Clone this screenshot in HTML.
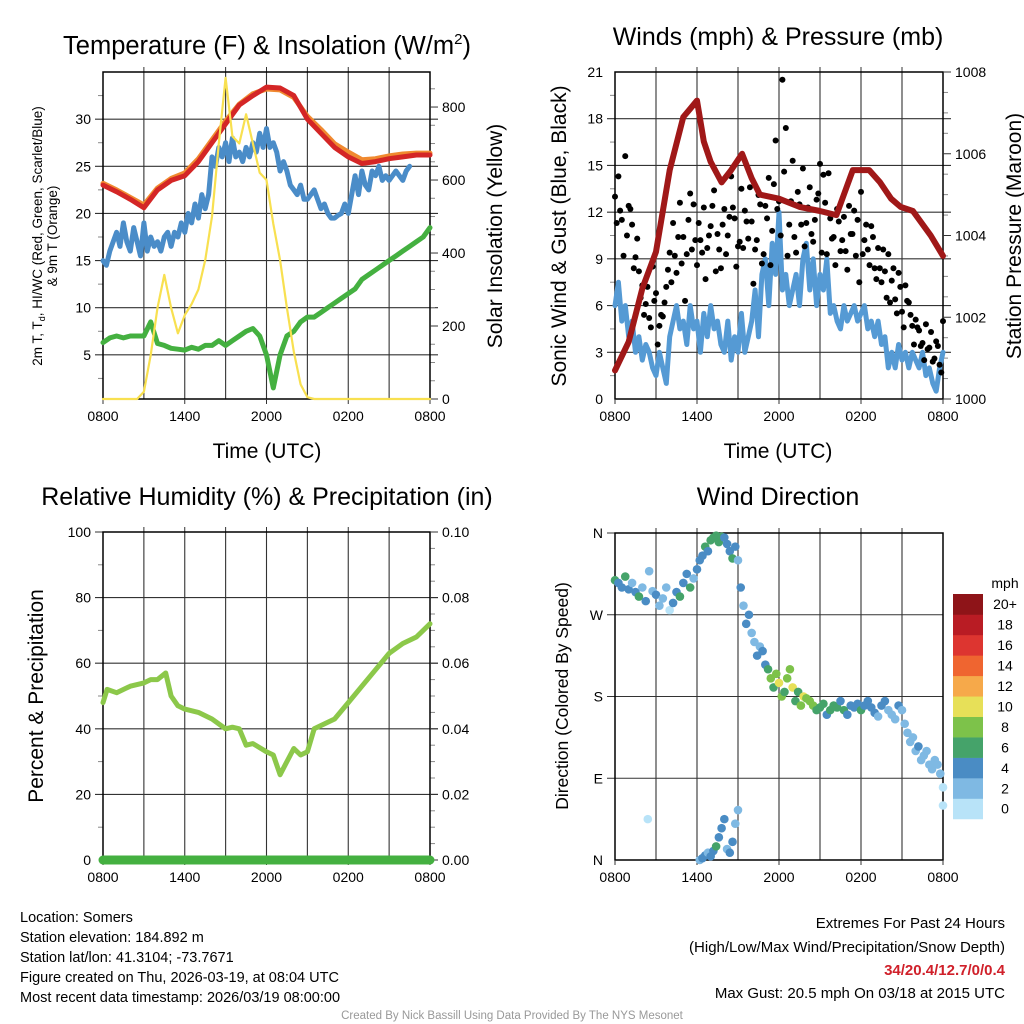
<!DOCTYPE html>
<html><head><meta charset="utf-8"><style>
html,body{margin:0;padding:0;background:#fff}
svg{display:block;font-family:"Liberation Sans",sans-serif}
</style></head><body>
<svg id="svg" width="1024" height="1024" viewBox="0 0 1024 1024" xmlns="http://www.w3.org/2000/svg">
<text x="267" y="54" font-size="25.5" text-anchor="middle">Temperature (F) &amp; Insolation (W/m<tspan dy="-10" font-size="15">2</tspan><tspan dy="10">)</tspan></text>
<text x="778" y="45" font-size="25" text-anchor="middle">Winds (mph) &amp; Pressure (mb)</text>
<text x="267" y="505" font-size="25" text-anchor="middle">Relative Humidity (%) &amp; Precipitation (in)</text>
<text x="778" y="505" font-size="25" text-anchor="middle">Wind Direction</text>

<text transform="translate(42,236) rotate(-90)" font-size="13.5" text-anchor="middle">2m T, T<tspan font-size="9" dy="3">d</tspan><tspan dy="-3">, HI/WC (Red, Green, Scarlet/Blue)</tspan></text>
<text transform="translate(57,236) rotate(-90)" font-size="13.5" text-anchor="middle">&amp; 9m T (Orange)</text>
<text transform="translate(502,236) rotate(-90)" font-size="21" text-anchor="middle">Solar Insolation (Yellow)</text>
<text x="267" y="458" font-size="21" text-anchor="middle">Time (UTC)</text>
<text transform="translate(566,236) rotate(-90)" font-size="21" text-anchor="middle">Sonic Wind &amp; Gust (Blue, Black)</text>
<text transform="translate(1021,236) rotate(-90)" font-size="21" text-anchor="middle">Station Pressure (Maroon)</text>
<text x="778" y="458" font-size="21" text-anchor="middle">Time (UTC)</text>
<text transform="translate(43,696) rotate(-90)" font-size="21" text-anchor="middle">Percent &amp; Precipitation</text>
<text transform="translate(568,696) rotate(-90)" font-size="17.5" text-anchor="middle">Direction (Colored By Speed)</text>

<g font-size="14.5">
<text x="20" y="922">Location: Somers</text>
<text x="20" y="942">Station elevation: 184.892 m</text>
<text x="20" y="962">Station lat/lon: 41.3104; -73.7671</text>
<text x="20" y="982">Figure created on Thu, 2026-03-19, at 08:04 UTC</text>
<text x="20" y="1002">Most recent data timestamp: 2026/03/19 08:00:00</text>
</g>
<g font-size="15" text-anchor="end">
<text x="1005" y="928">Extremes For Past 24 Hours</text>
<text x="1005" y="952">(High/Low/Max Wind/Precipitation/Snow Depth)</text>
<text x="1005" y="975" fill="#d0202a" font-weight="bold">34/20.4/12.7/0/0.4</text>
<text x="1005" y="998">Max Gust: 20.5 mph On 03/18 at 2015 UTC</text>
</g>
<text x="512" y="1019" font-size="11.5" fill="#999" text-anchor="middle">Created By Nick Bassill Using Data Provided By The NYS Mesonet</text>
<g id="layer"></g>
</svg>
<script>
// ---------- data ----------
const xTickLabels = ["0800","1400","2000","0200","0800"];
const halfHours = []; for (let i=0;i<=48;i++) halfHours.push(i/2);
const quarterHours = []; for (let i=0;i<=96;i++) quarterHours.push(i/4);
const tempHours = [0,1,2,3,4,5,6,7,8,9,10,11,12,13,14,15,16,17,18,19,20,21,22,23,24];
const tempRed = [23,22.3,21.5,20.6,22.5,23.5,24,25.5,27.5,29.5,31.5,32.5,33.4,33.3,32.5,30,28.5,27,26,25.3,25.5,25.8,26,26.2,26.2];
const tempOrange = [23.2,22.5,21.7,20.9,22.7,23.7,24.3,25.8,27.8,29.8,31.6,32.7,33.2,33.1,32.3,30.3,28.9,27.4,26.5,25.7,25.8,26.1,26.3,26.4,26.4];
const windChill = [15,14.5,16,17,18,16.5,19,17, 16,18.5,17,15.5,19,16,17.5,16.5, 17,16,17.5,18,16.5,18,17.5,19, 18,20,19,21,19.5,22,20.5,22,
 26,25,27,26,27.5,25.5,28,26, 26.5,25.5,27,26,27.5,26.5,28.5,27, 29,27,27.5,26.5,24.5,25.5,24.5,23, 22.5,22,23,21.5,21.5,22,22.5,21.5,
 20.5,21,20,19.5,19.5,19.8,20,21, 20,22,24,22,24.5,23,22.5,24.5, 24,25,23.5,24,23.5,24,24.5,24, 23.5,24.5,25,null,null,null,null,null,null];
const dewPoint = [6.3,6.8,7,6.8,7,7,7,8.5,6.2,6,5.7,5.6,5.5,5.8,5.6,6,6,6.5,6,6.5,7,7.5,7.8,7,5,1.5,5,7,7.5,8.5,9,9,9.5,10,10.5,11,11.5,12,13,13.5,14,14.5,15,15.5,16,16.5,17,17.5,18.5];
const insolation = [0,0,0,0,0,0,20,120,250,340,250,180,230,260,300,380,500,700,880,720,700,780,700,620,600,480,380,250,130,40,5,0,0,0,0,0,0,0,0,0,0,0,0,0,0,0,0,0,0];
const windSpeed = [6,7.5,5,6,4,5,3,4, 2.5,3.5,3,2,1.5,3,2,1, 4,5,6,4.5,5,3.5,6,4.5, 5,3,5.5,4,6,4.5,5,3.5, 3,5,2.5,4,3,5.5,3,4,
 5,7,4,8,9,6,10,8, 12,7,8,6,7,8,6,9, 10,7,9,6,8,7,9,5.5, 6,5,4.5,6,5,5.5,6,5, 5.5,6,4.5,5,4,5,3.5,4,
 2,3,2,3.5,2.5,3,2,3, 2.5,2,3,1.5,2,1,0.5,2,3];
const pressHours = [0,1,2,3,4,5,5.5,6,6.5,7,7.8,8.5,9.3,10,10.6,12,13.5,15,16.2,17.4,18.6,19.4,20.2,20.9,21.8,23.1,24];
const pressure = [1000.7,1001.4,1002.7,1003.6,1005.6,1006.9,1007.1,1007.3,1006.3,1005.8,1005.3,1005.6,1006,1005.4,1005.0,1004.9,1004.7,1004.6,1004.5,1005.6,1005.6,1005.3,1004.9,1004.7,1004.6,1004,1003.5];
const gustA = [13,14.3,11.5,15.6,12.4,11.2,9.1,8.2,7.3,6.1,5.2,8.5,6.8,4.7,5.3,7.2,9.4,11.3,8.1,12.6,10.4,9.3,13.2,12.5,8.6,10.2,12.3,9.7,11.1,13.4,10.6,8.4,12.2,10.5,14.3,11.6,9.8,13.5,12.1,10.3,11.4,9.6,13.1,8.7,12.4,14.2,10.8,16.6,12.7,20.5,17.4,11.2,15.3,9.4,12.5,14.8,11.3,13.6,10.1,12.8,15.1,14.4,9.3,11.6,10.4,12.2,9.5,11.7,8.3,10.6,12.1,11.5,13.3,10.2,9.6,11.1,8.4,9.7,7.5,8.2,9.3,7.6,6.4,8.1,5.6,7.3,6.2,4.7,5.1,4.4,3.6,4.8,3.3,2.4,3.7,2.2,5];
const gustB = [11.3,12.1,9.2,10.5,12.2,8.4,10.3,6.5,5.4,7.2,4.6,6.3,3.5,5.4,6.2,8.3,7.5,9.2,10.4,8.7,6.3,11.5,9.6,10.2,11.3,9.4,7.7,10.5,12.4,8.2,9.6,11.2,9.3,11.7,12.3,8.5,10.1,9.7,11.4,13.6,7.4,10.2,12.5,9.3,11.6,8.6,13.8,12.2,10.5,14.6,9.2,12.7,10.4,13.3,11.2,9.8,12.3,10.6,11.5,13.2,9.4,12.6,14.5,10.3,8.6,11.4,10.2,9.5,12.4,10.6,9.2,7.5,9.3,11.2,8.6,10.4,7.7,8.4,9.6,6.5,6.2,8.4,5.5,7.2,4.6,6.3,5.4,3.5,4.6,3.4,2.5,3.2,4.3,2.6,3.4,1.7];
const rhHours = [0,0.3,1,2,3,3.5,4,4.6,5,5.5,6,7,8,9,9.5,10,10.5,11,12,12.5,13,13.5,14,14.5,15,15.5,16,17,18,19,20,21,22,23,24];
const rhValues = [48,52,51,53,54,55,55,57,50,47,46,45,43,40,40.5,40,35,35.5,33,32,26,30,34,32,33,40,41,43,48,53,58,63,66,68,72];
const precip = [0,0,0,0,0,0,0,0,0,0,0,0,0,0,0,0,0,0,0,0,0,0,0,0,0];
const wdHours = [0,0.25,0.5,0.75,1,1.25,1.5,1.75,2,2.25,2.5,2.75,3,3.25,3.5,3.75,4,4.25,4.5,4.75,5,5.25,5.5,5.75,
 6,6.2,6.4,6.6,6.8,7,7.2,7.4,7.6,7.8,8,8.2,8.4,8.6,8.8,
 9,9.2,9.4,9.6,9.8,10,10.2,10.4,10.6,10.8,
 11,11.2,11.4,11.6,11.8,12,12.2,12.4,12.6,12.8,13,13.2,13.4,13.6,13.8,14,
 14.25,14.5,14.75,15,15.25,15.5,15.75,16,16.25,16.5,16.75,17,17.25,17.5,17.75,18,18.25,18.5,18.75,19,19.25,19.5,19.75,20,20.25,20.5,20.75,21,
 21.2,21.4,21.6,21.8,22,22.2,22.4,22.6,22.8,23,23.2,23.4,23.6,23.8,24,24,
 2.4,6.2,6.4,6.6,6.8,7,7.2,7.4,7.6,7.8,8,8.2,8.4,8.6,8.8,9];
const wdDirs = [308,305,300,312,298,305,295,290,300,285,318,296,292,280,288,300,275,283,295,290,305,315,300,310,
 320,330,335,345,340,352,355,357,350,356,355,348,340,332,345,
 330,300,280,260,270,250,240,225,235,230,
 215,210,200,190,205,195,180,185,200,210,190,175,185,170,180,178,
 175,170,165,168,172,160,165,170,168,175,165,160,170,168,172,165,170,175,168,162,158,170,175,165,160,155,170,165,150,
 140,130,135,120,125,110,115,120,105,100,110,105,95,80,60,45,
 0,2,5,8,4,10,15,25,35,45,12,8,20,40,55,30];
const wdSpeeds = [6,4,5,7,4,3,4,6,2,4,3,3,4,2,2,3,1,4,5,6,4,4,7,3,
 4,5,4,6,4,7,6,6,7,6,5,4,4,6,4,
 2,4,2,4,4,2,2,4,2,4,
 5,6,8,6,8,10,9,7,9,8,11,6,7,9,10,8,
 8,9,7,6,7,5,6,7,6,5,6,4,5,4,5,6,4,4,5,4,3,4,5,3,2,3,4,2,2,
 2,3,2,2,4,2,2,3,2,2,3,2,2,1,1,1,
 2,4,4,3,4,5,6,4,4,4,2,4,4,2,2,4];
const cbLabels = ["0","2","4","6","8","10","12","14","16","18","20+"];
const cbColors = ["#b8e3f8","#7fb9e3","#4a8cc4","#45a36a","#7dc24a","#e7e058","#f6a94a","#ef6530","#dd3530","#b91c24","#8e1418"];

// ---------- drawing helpers ----------
const NS="http://www.w3.org/2000/svg";
const layer=document.getElementById('layer');
function el(tag,attrs,parent){const e=document.createElementNS(NS,tag);for(const k in attrs)e.setAttribute(k,attrs[k]);(parent||layer).appendChild(e);return e;}
function txt(x,y,s,size,anchor,parent){const t=el('text',{x:x,y:y,'font-size':size,'text-anchor':anchor},parent);t.textContent=s;return t;}
function linear(d0,d1,r0,r1){return v=>r0+(v-d0)*(r1-r0)/(d1-d0);}

function frame(p){
  const g=el('g',{});
  
  
  for(let h=3;h<24;h+=3){el('line',{x1:p.sx(h),x2:p.sx(h),y1:p.y0,y2:p.y1,stroke:'#333','stroke-width':1.1},g);
    el('line',{x1:p.sx(h),x2:p.sx(h),y1:p.y0-5,y2:p.y0,stroke:'#333'},g);}
  p.hgrid.forEach(v=>{const y=p.sy(v);el('line',{x1:p.x0-8,x2:p.x1+(p.rTicks?8:0),y1:y,y2:y,stroke:'#333','stroke-width':1.1},g);});
  (p.minor||[]).forEach(v=>{const y=p.sy(v);el('line',{x1:p.x0-5,x2:p.x0,y1:y,y2:y,stroke:'#888'},g);});
  (p.rMinor||[]).forEach(v=>{const y=p.sy2(v);el('line',{x1:p.x1,x2:p.x1+5,y1:y,y2:y,stroke:'#888'},g);});
  el('rect',{x:p.x0,y:p.y0,width:p.x1-p.x0,height:p.y1-p.y0,fill:'none',stroke:'#000','stroke-width':1.5},g);
  xTickLabels.forEach((s,i)=>{const x=p.sx(i*6);txt(x,p.y1+22,s,14,'middle',g);el('line',{x1:x,x2:x,y1:p.y1,y2:p.y1+5,stroke:'#333'},g);});
  p.lTicks.forEach((s,i)=>{txt(p.x0-12,p.sy(p.lVals[i])+5,s,14,'end',g);});
  if(p.rTicks){p.rTicks.forEach((s,i)=>{const y=p.sy2(p.rVals[i]);txt(p.x1+12,y+5,s,14,'start',g);el('line',{x1:p.x1,x2:p.x1+8,y1:y,y2:y,stroke:'#333'},g);});}
}
function polyline(xs,ys,sx,sy,color,w,name){
  let pts=[];for(let i=0;i<xs.length;i++){if(ys[i]==null)continue;pts.push(sx(xs[i]).toFixed(1)+','+sy(ys[i]).toFixed(1));}
  const l=el('polyline',{points:pts.join(' '),fill:'none',stroke:color,'stroke-width':w,'stroke-linejoin':'round','stroke-linecap':'round'});
  
  
  return l;
}

// ---------- panel 1 ----------
{
 const p={name:'temperature',x0:103,x1:430,y0:72,y1:399};
 p.sx=linear(0,24,p.x0,p.x1); p.sy=linear(0,35,402,72); p.sy2=linear(0,896,399,72);
 p.hgrid=[5,10,15,20,25,30]; p.lVals=[5,10,15,20,25,30]; p.lTicks=["5","10","15","20","25","30"];
 p.minor=[2.5,7.5,12.5,17.5,22.5,27.5,32.5]; p.rVals=[0,200,400,600,800]; p.rTicks=["0","200","400","600","800"];
 p.rMinor=[50,100,150,250,300,350,450,500,550,650,700,750,850];
 frame(p);
 polyline(quarterHours,windChill,p.sx,p.sy,'#4a8cc8',5,'wind-chill-line');
 polyline(tempHours,tempOrange,p.sx,p.sy,'#f08a30',5,'temp-9m-line');
 polyline(tempHours,tempRed,p.sx,p.sy,'#d42626',5,'temp-2m-line');
 polyline(halfHours,dewPoint,p.sx,p.sy,'#44b040',5,'dewpoint-line');
 polyline(halfHours,insolation,p.sx,p.sy2,'#f8e050',2.2,'insolation-line');
}
// ---------- panel 2 ----------
{
 const p={name:'winds',x0:615,x1:943,y0:72,y1:399};
 p.sx=linear(0,24,p.x0,p.x1); p.sy=linear(0,21,399,72); p.sy2=linear(1000,1008,399,72);
 p.hgrid=[3,6,9,12,15,18]; p.lVals=[0,3,6,9,12,15,18,21]; p.lTicks=["0","3","6","9","12","15","18","21"];
 p.minor=[1.5,4.5,7.5,10.5,13.5,16.5,19.5]; p.rVals=[1000,1002,1004,1006,1008]; p.rTicks=["1000","1002","1004","1006","1008"];
 p.rMinor=[1000.5,1001,1001.5,1002.5,1003,1003.5,1004.5,1005,1005.5,1006.5,1007,1007.5];
 frame(p);
 polyline(quarterHours,windSpeed,p.sx,p.sy,'#559ad4',5,'wind-speed-line');
 gustA.forEach((v,i)=>{const c=el('circle',{cx:p.sx(i*0.25),cy:p.sy(v),r:3,fill:'#000'});
  
  });
 gustB.forEach((v,i)=>{const c=el('circle',{cx:p.sx(i*0.25+0.125),cy:p.sy(v),r:3,fill:'#000'});
  
  });
 polyline(pressHours,pressure,p.sx,p.sy2,'#a01818',6,'pressure-line');
}
// ---------- panel 3 ----------
{
 const p={name:'humidity',x0:103,x1:430,y0:532,y1:860};
 p.sx=linear(0,24,p.x0,p.x1); p.sy=linear(0,100,860,532); p.sy2=linear(0,0.1,860,532);
 p.hgrid=[20,40,60,80,100]; p.lVals=[0,20,40,60,80,100]; p.lTicks=["0","20","40","60","80","100"];
 p.minor=[10,30,50,70,90]; p.rVals=[0,0.02,0.04,0.06,0.08,0.1]; p.rTicks=["0.00","0.02","0.04","0.06","0.08","0.10"];
 p.rMinor=[0.005,0.01,0.015,0.025,0.03,0.035,0.045,0.05,0.055,0.065,0.07,0.075,0.085,0.09,0.095];
 frame(p);
 polyline(rhHours,rhValues,p.sx,p.sy,'#8cc84a',5,'rh-line');
 polyline(tempHours,precip,p.sx,p.sy2,'#44b040',9,'precip-line');
}
// ---------- panel 4 ----------
{
 const p={name:'direction',x0:615,x1:943,y0:533,y1:860};
 p.sx=linear(0,24,p.x0,p.x1); p.sy=linear(0,360,860,533);
 p.hgrid=[90,180,270,360]; p.lVals=[0,90,180,270,360]; p.lTicks=["N","E","S","W","N"];
 frame(p);
 wdHours.forEach((h,i)=>{
  const s=wdSpeeds[i]; const idx=Math.min(10,Math.floor(s/2));
  const c=el('circle',{cx:p.sx(h),cy:p.sy(wdDirs[i]),r:4.3,fill:cbColors[idx]});
  
  
 });
 const g=el('g',{});
 
 
 const bh=20.45, top=594;
 txt(1005,588,'mph',14,'middle',g);
 cbColors.forEach((c,i)=>{const y=top+(10-i)*bh;el('rect',{x:953,y:y,width:30,height:bh+0.3,fill:c},g);
  txt(1005,y+bh/2+5,cbLabels[i],14,'middle',g);});
}
</script>
</body></html>
